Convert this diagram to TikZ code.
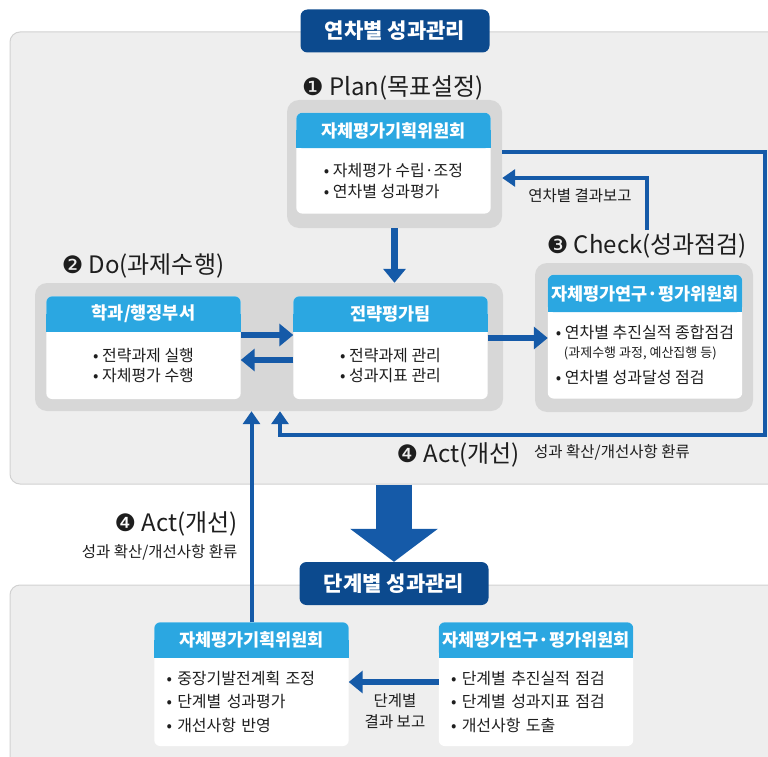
\documentclass[tikz,border=0pt]{standalone}
\usepackage{fontspec}
\setmainfont{Noto Sans CJK KR}
\newfontfamily\dingfont{DejaVu Sans}
\usetikzlibrary{positioning,arrows.meta,backgrounds}

\definecolor{navy}{HTML}{0C4A8E}
\definecolor{hdblue}{HTML}{2BA7E1}
\definecolor{arrblue}{HTML}{155AA8}
\definecolor{panelgray}{HTML}{EEEEEE}
\definecolor{grpgray}{HTML}{D7D7D7}
\definecolor{txtgray}{HTML}{1E1E1E}

\tikzset{
  panel/.style={fill=panelgray, draw=black!18, line width=1pt, rounded corners=10pt},
  grp/.style={fill=grpgray, rounded corners=12pt},
  titlebox/.style={fill=navy, text=white, rounded corners=7pt, minimum width=189pt, minimum height=43pt, font=\bfseries\fontsize{21}{21}\selectfont},
  head/.style={text=white, minimum width=194pt, minimum height=35pt, inner sep=0pt, font=\bfseries\fontsize{17.5}{17.5}\selectfont},
  body/.style={text=txtgray, minimum width=194pt, align=left, inner sep=0pt, font=\fontsize{16}{20.5}\selectfont},
  phaselbl/.style={text=txtgray, font=\fontsize{24}{24}\selectfont},
  note/.style={text=txtgray, font=\fontsize{15.5}{21}\selectfont},
  flow/.style={draw=arrblue, line width=6.5pt, -{Triangle[length=14pt,width=22pt]}},
  loopl/.style={draw=arrblue, line width=4pt, -{Triangle[length=13pt,width=17pt]}},
  bigarrow/.style={draw=arrblue, line width=36pt, -{Triangle[length=33pt,width=86pt]}},
}

\begin{document}
\begin{tikzpicture}[x=1pt,y=-1pt]
\useasboundingbox (0,0) rectangle (768,757);

% panels and groups
\begin{scope}[on background layer]
  \node[panel, minimum width=780pt, minimum height=452pt] (topP) at (400,258) {};
  \node[panel, minimum width=780pt, minimum height=190pt] (botP) at (400,680) {};
  \node[grp, minimum width=215pt, minimum height=128pt] (planG) at (394.5,164) {};
  \node[grp, minimum width=468pt, minimum height=128pt] (doG) at (269,347) {};
  \node[grp, minimum width=218pt, minimum height=149pt] (checkG) at (644,337.5) {};
\end{scope}

\node[titlebox] (title1) at (395,31) {연차별 성과관리};
\node[titlebox] (title2) at (394,583.5) {단계별 성과관리};

% Plan
\node[phaselbl] (planL) at (393,88) {{\dingfont ❶} Plan(목표설정)};
\node[head] (planH) at (393.5,130.5) {자체평가기획위원회};
\node[body, below=0pt of planH, minimum height=65pt] (planB) {• 자체평가 수립·조정\\• 연차별 성과평가};

% Do
\node[phaselbl] (doL) at (143,266) {{\dingfont ❷} Do(과제수행)};
\node[head] (deptH) at (143.5,314) {학과/행정부서};
\node[body, below=0pt of deptH, minimum height=67pt] (deptB) {• 전략과제 실행\\• 자체평가 수행};
\node[head] (stratH) at (390.5,314) {전략평가팀};
\node[body, below=0pt of stratH, minimum height=67pt] (stratB) {• 전략과제 관리\\• 성과지표 관리};

% Check
\node[phaselbl] (checkL) at (647,246) {{\dingfont ❸} Check(성과점검)};
\node[head, minimum height=37pt] (checkH) at (645,293.5) {자체평가연구·평가위원회};
\node[body, below=0pt of checkH, minimum height=86pt] (checkB) {• 연차별 추진실적 종합점검\\[-2pt]\hspace*{8pt}{\fontsize{13}{15}\selectfont(과제수행 과정, 예산집행 등)}\\[6pt]• 연차별 성과달성 점검};

% stage cards
\node[head] (bplanH) at (251.5,640) {자체평가기획위원회};
\node[body, below=0pt of bplanH, minimum height=88pt, text width=170pt, inner xsep=12pt, font=\fontsize{16}{23.5}\selectfont] (bplanB) {• 중장기발전계획 조정\\• 단계별 성과평가\\• 개선사항 반영};
\node[head] (bevalH) at (536,640) {자체평가연구·평가위원회};
\node[body, below=0pt of bevalH, minimum height=88pt, text width=170pt, inner xsep=12pt, font=\fontsize{16}{23.5}\selectfont] (bevalB) {• 단계별 추진실적 점검\\• 단계별 성과지표 점검\\• 개선사항 도출};

% card fills
\begin{scope}[on background layer]
  \foreach \nm in {plan,dept,strat,check,bplan,beval} {
    \fill[white, rounded corners=6pt] (\nm H.north west) rectangle (\nm B.south east);
    \fill[hdblue, rounded corners=6pt] (\nm H.north west) rectangle (\nm H.south east);
    \fill[hdblue] (\nm H.west) rectangle (\nm H.south east);
  }
\end{scope}

% labels
\node[note] (repL) at (580,196) {연차별 결과보고};
\node[phaselbl] (actL) at (458,455) {{\dingfont ❹} Act(개선)};
\node[note] (actT) at (612,452) {성과 확산/개선사항 환류};
\node[phaselbl, anchor=east] (act2L) at (241,524) {{\dingfont ❹} Act(개선)};
\node[note, anchor=east] (act2T) at (241,552) {성과 확산/개선사항 환류};
\node[note, align=center] (brepL) at (395,711) {단계별\\결과 보고};

\coordinate (loopNE) at (765,152);
\coordinate (loopSW) at (280,435);

% arrows
\draw[flow] (planG.south) -- (planG.south |- doG.north);
\draw[flow] (deptB.east |- 0,335) -- (stratB.west |- 0,335);
\draw[flow] (stratB.west |- 0,360) -- (deptB.east |- 0,360);
\draw[flow] (stratB.east |- 0,338) -- (checkB.west |- 0,338);
\draw[loopl] (checkL.north) |- (planG.east |- 0,178);
\draw[loopl] (planG.east |- loopNE) -- (loopNE) |- (loopSW) -- (loopSW |- doG.south);
\draw[loopl] (bplanH.north) -- (bplanH.north |- doG.south);
\draw[bigarrow] (title2.north |- topP.south) -- (title2.north);
\draw[flow] (bevalB.west |- 0,682) -- (bplanB.east |- 0,682);
\end{tikzpicture}
\end{document}
